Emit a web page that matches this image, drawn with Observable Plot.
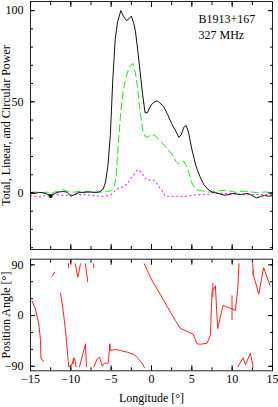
<!DOCTYPE html>
<html><head><meta charset="utf-8">
<script src="https://cdn.jsdelivr.net/npm/d3@7"></script>
<script src="https://cdn.jsdelivr.net/npm/@observablehq/plot@0.6"></script>
<style>
body{margin:0;background:#fff;}
#chart{position:relative;width:278px;height:407px;overflow:hidden;}
#chart svg{display:block;}
</style></head><body><div id="chart"></div>
<script>
// ---- data ----
const totalLon = [-15,-14.5,-14,-13.5,-13,-12.5,-12,-11.5,-11,-10.5,-10,-9.5,-9,-8.5,-8,-7.5,-7,-6.5,-6,-5.7,-5.4,-5.1,-4.8,-4.5,-4.2,-3.8,-3.5,-3.1,-2.8,-2.5,-2.2,-2.0,-1.7,-1.4,-1.1,-0.8,-0.5,-0.2,0.1,0.4,0.7,1.0,1.5,2.0,2.5,3.0,3.4,3.7,4.0,4.3,4.6,5.0,5.5,6.0,6.5,7.0,7.5,8,8.5,9,9.5,10,10.5,11,11.5,12,12.5,13,13.5,14,14.5,15];
const totalVal = [0,-0.3,0.3,0.2,-0.5,-1.6,-0.3,0.5,0.8,0.5,-1.8,-0.8,0.4,0.3,0.5,0.5,0.3,0.5,2,6,15,32,62,84,94,100,97,94.5,95.5,97,93,89,78,66,54,44,44,47,49,50,50.5,49.5,47.5,43,38,34,30.5,32,36,37,33,24,15,9,4.5,2,0.5,0,-0.5,-1.2,-1,-0.3,-0.5,-0.9,-0.5,-0.3,-1.5,-2.7,-2,-1.3,-1.8,-1.5];

const linearLon = [-15,-14.5,-14,-13.5,-13,-12.5,-12,-11.5,-11,-10.5,-10,-9.5,-9,-8.5,-8,-7.5,-7,-6.5,-6,-5.5,-5,-4.7,-4.4,-4.1,-3.8,-3.5,-3.2,-2.9,-2.6,-2.3,-2.0,-1.7,-1.4,-1.1,-0.8,-0.5,-0.2,0.1,0.4,0.7,1.0,1.4,1.8,2.2,2.6,3.0,3.3,3.7,4.0,4.3,4.6,5.0,5.4,5.8,6.5,7,7.5,8,8.5,9,9.5,10,10.5,11,11.5,12,12.5,13,13.5,14,14.5,15];
const linearVal = [0.3,0.5,0.3,0,0.5,-0.3,0.5,1,1.8,1,0.3,0.5,0.8,0.5,0.8,0.5,0.5,0.5,0.5,0.8,1.2,2.5,8,28,45,56,63,67,70,71,66,57,44,35,31,30.5,31.5,32,31.5,30.5,29,27,25,23,21,17.5,16,17,17.5,15,11.5,5.5,2.5,1.5,1,0.5,0.5,1,1.2,1.5,1.3,0.8,0.3,0.8,1,0.8,0.5,0.2,0.3,0.5,0.4,0.3];

const circularLon = [-15,-14.5,-14,-13.5,-13,-12.5,-12,-11.5,-11,-10.5,-10,-9.5,-9,-8.5,-8,-7.5,-7,-6.5,-6,-5.5,-5,-4.5,-4.0,-3.5,-3.0,-2.6,-2.2,-1.8,-1.5,-1.2,-0.9,-0.5,0,0.3,0.7,1.0,1.3,1.7,2.5,3.5,4.5,5.0,5.6,6.3,7.0,7.7,8.5,9.5,10.5,11.5,12.5,13.5,14.5,15];
const circularVal = [-1.3,-1.8,-2.2,-1.8,-1.3,-0.9,-0.9,-1.1,-1.3,-1.3,-1.1,-0.9,-0.9,-0.9,-1.1,-1.3,-1.5,-1.8,-1.8,-1.5,-1.0,1.5,2.8,3.3,5,7.9,10,12.5,12.5,11,8.5,7,7,7,5,3,1.5,-1.8,-1.8,-1.8,-1.8,-1.3,-0.9,-0.9,-0.9,0.2,-0.2,-0.3,-0.5,-0.9,-0.9,-0.9,-0.9,-0.9];

const markerLon = [-12.5];
const markerVal = [-1.6];

// position angle, null = gap between segments
const paLon = [-14.8,-14.4,-13.97,-13.76,-13.7,-13.35,null,
  -12.3,-12.0,null,
  -10.3,-10.25,null,
  -9.45,-9.13,-8.8,null,
  -8.2,-7.9,null,
  -7.2,-7.15,null,
  -11.28,-11.07,-10.8,-10.58,-10.33,-10.25,-9.92,-9.75,-9.55,-9.34,null,
  -8.93,-8.18,-8.06,null,
  -7.15,-6.74,-6.45,-6.1,-5.8,-5.58,-5.35,-5.17,-5.09,-4.47,-3.85,-3.0,-2.2,-1.78,-1.16,-0.87,null,
  -0.9,-0.04,0.70,1.52,2.35,2.97,3.59,4.41,5.16,5.65,6.07,6.9,7.3,7.51,7.7,7.92,8.2,8.87,9.56,9.98,10.4,10.7,10.85,null,
  10.7,11.35,11.64,12.26,12.6,null,
  12.55,12.6,13.3,13.9,14.7];
const paVal = [26,12,-15,-44,-77,-81,null,
  70,77,null,
  92,85,null,
  92,68,92,null,
  92,60,null,
  92,85,null,
  40,21,-9,-38,-80,-91,-88,-82,-75,-91,null,
  -91,-50,-91,null,
  -91,-77,-74,-90,-84,-85.5,-84,-50,-62,-60,-62,-65,-69,-74,-85,-92,null,
  92,65,47,27,6,-9,-23,-28,-33,-50,-51,-49,-35,44,46,53,-23,18,14,12,9,50,92,null,
  -91,-75,-87,-67,-91,null,
  92,74,38,85,53];

const errLon = [7.6, 9.98, 12.6, -9.7];
const errLow = [32, -9, 70, -88];
const errHigh = [57, 35, 80, -76];

const xMajorTicks = [-15,-10,-5,0,5,10,15];
const xMinorTicks = [-15,-12.5,-10,-7.5,-5,-2.5,0,2.5,5,7.5,10,12.5,15];
const powerMajorTicks = [0,50,100];
const powerMinorTicks = [-30,-20,-10,0,10,20,30,40,50,60,70,80,90,100];
const paMajorTicks = [-90,0,90];
const paMinorTicks = [-90,-60,-30,0,30,60,90];

const sourceName = "B1913+167";
const freqLabel = "327 MHz";
const powerLabel = "Total, Linear, and Circular Power";
const paLabel = "Position Angle [\u00b0]";
const lonLabel = "Longitude [\u00b0]";

// ---- build ----
const zip = (xs, ys) => xs.map((x, i) => ({x, y: ys[i]}));
const totalData = zip(totalLon, totalVal);
const linearData = zip(linearLon, linearVal);
const circularData = zip(circularLon, circularVal);
const markerData = zip(markerLon, markerVal);
const paData = zip(paLon, paVal);
const errData = errLon.map((x, i) => ({x, y1: errLow[i], y2: errHigh[i]}));

const FONT = "Liberation Serif";
const plotStyle = {fontFamily: FONT, fontSize: "12px", color: "black", background: "white", overflow: "visible"};
const blank = () => "";
const minusFmt = d => d < 0 ? "\u2212" + Math.abs(d) : String(d);

function tickMarks(majorX, minorX, majorY, minorY) {
  const out = [];
  for (const anchor of ["bottom", "top"]) {
    out.push(Plot.axisX({anchor, ticks: majorX, tickSize: -5, tickFormat: blank, label: null}));
    out.push(Plot.axisX({anchor, ticks: minorX, tickSize: -3, tickFormat: blank, label: null}));
  }
  for (const anchor of ["left", "right"]) {
    out.push(Plot.axisY({anchor, ticks: majorY, tickSize: -5, tickFormat: blank, label: null}));
    out.push(Plot.axisY({anchor, ticks: minorY, tickSize: -3, tickFormat: blank, label: null}));
  }
  return out;
}

const topPanel = Plot.plot({
  width: 278, height: 252,
  marginTop: 1, marginBottom: 3, marginLeft: 30, marginRight: 6,
  style: plotStyle,
  x: {domain: [-15, 15], label: null},
  y: {domain: [-31, 105], label: null},
  marks: [
    Plot.line(circularData, {x: "x", y: "y", stroke: "#ff33ff", strokeWidth: 1.2, strokeDasharray: "1.2,3.3"}),
    Plot.line(linearData, {x: "x", y: "y", stroke: "#22e022", strokeWidth: 1, strokeDasharray: "7,4"}),
    Plot.line(totalData, {x: "x", y: "y", stroke: "#111", strokeWidth: 1}),
    Plot.dot(markerData, {x: "x", y: "y", r: 2, fill: "black"}),
    Plot.frame({stroke: "#222"}),
    ...tickMarks(xMajorTicks, xMinorTicks, powerMajorTicks, powerMinorTicks),
    Plot.axisY({anchor: "left", ticks: powerMajorTicks, tickSize: 0, tickPadding: 7, label: null}),
    Plot.text([powerLabel], {frameAnchor: "left", dx: -24, rotate: -90, textAnchor: "middle", lineAnchor: "middle",
      fill: "black", fontSize: 12, style: "letter-spacing:0.4px"}),
    Plot.text([sourceName], {frameAnchor: "top-left", textAnchor: "start", lineAnchor: "middle", dx: 168, dy: 18, fill: "black"}),
    Plot.text([freqLabel], {frameAnchor: "top-left", textAnchor: "start", lineAnchor: "middle", dx: 168, dy: 34, fill: "black"})
  ]
});

const bottomPanel = Plot.plot({
  width: 278, height: 155,
  marginTop: 6.7, marginBottom: 36.7, marginLeft: 30, marginRight: 6,
  style: plotStyle,
  x: {domain: [-15, 15], label: null},
  y: {domain: [-98, 100], label: null},
  marks: [
    Plot.line(paData, {x: "x", y: "y", stroke: "#ff2020", strokeWidth: 1, clip: true}),
    Plot.ruleX(errData, {x: "x", y1: "y1", y2: "y2", stroke: "#ff2020", strokeWidth: 1}),
    Plot.frame({stroke: "#222"}),
    ...tickMarks(xMajorTicks, xMinorTicks, paMajorTicks, paMinorTicks),
    Plot.axisY({anchor: "left", ticks: paMajorTicks, tickSize: 0, tickPadding: 7, tickFormat: minusFmt, label: null}),
    Plot.axisX({anchor: "bottom", ticks: xMajorTicks, tickSize: 0, tickPadding: 4, tickFormat: minusFmt, label: null}),
    Plot.text([paLabel], {frameAnchor: "left", dx: -24, rotate: -90, textAnchor: "middle", lineAnchor: "middle", fill: "black"}),
    Plot.text([lonLabel], {frameAnchor: "bottom", dy: 27, textAnchor: "middle", lineAnchor: "middle", fill: "black"})
  ]
});

const chart = document.getElementById("chart");
chart.appendChild(topPanel);
chart.appendChild(bottomPanel);
</script>
</body></html>
